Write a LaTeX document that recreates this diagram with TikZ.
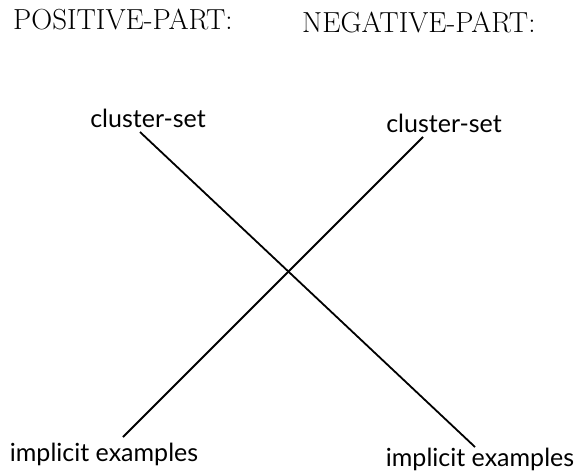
\documentclass[tikz,border=0pt]{standalone}
\usepackage{fontspec}
\newfontfamily\tagfont{Lato}
\begin{document}
\begin{tikzpicture}[x=1pt, y=-1pt,
    heading/.style={anchor=base west, inner sep=0pt, font=\fontsize{29}{34}\selectfont},
    tag/.style={anchor=base, inner sep=0pt, font=\tagfont\fontsize{25}{29}\selectfont},
    bar/.style={line width=1.8pt}]
    \useasboundingbox (0,0) rectangle (577,474);

    % 标题
    \node[heading] (pos) at (13,29) {POSITIVE-PART:};
    \node[heading] (neg) at (302,32) {NEGATIVE-PART:};

    % 上面两个
    \node[tag] (csl) at (148,127) {cluster-set};
    \node[tag] (csr) at (444,132) {cluster-set};

    % 下面两个
    \node[tag] (iel) at (104,461) {implicit examples};
    \node[tag] (ier) at (480,466) {implicit examples};

    % 交叉线
    \draw[bar] ([shift={(-8,5)}]csl.base) -- ([shift={(-5,-19)}]ier.base);
    \draw[bar] ([shift={(-21,5)}]csr.base) -- ([shift={(19,-24)}]iel.base);
\end{tikzpicture}
\end{document}
